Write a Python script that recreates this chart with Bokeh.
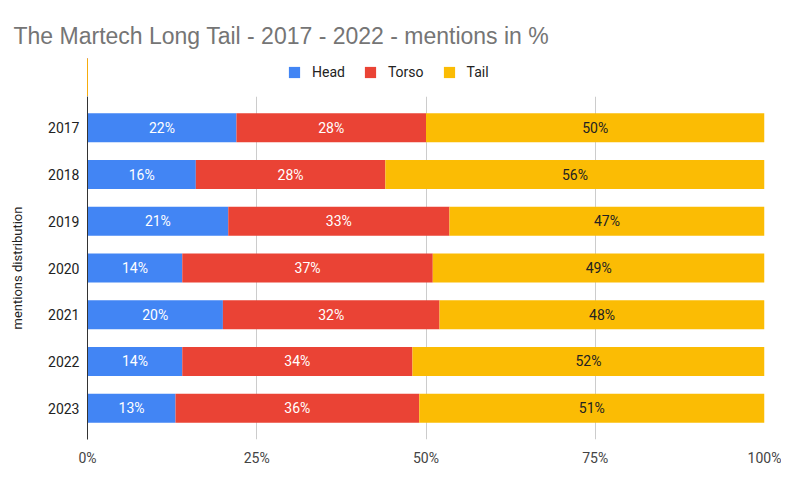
from bokeh.plotting import figure
from bokeh.layouts import column
from bokeh.models import (FactorRange, Range1d, FixedTicker, PrintfTickFormatter,
                          ColumnDataSource, Legend, LegendItem)
from bokeh.core.properties import value
from bokeh.embed import file_html
from bokeh.resources import INLINE

years = ["2017", "2018", "2019", "2020", "2021", "2022", "2023"]
head = [22, 16, 21, 14, 20, 14, 13]
torso = [28, 28, 33, 37, 32, 34, 36]
tail = [50, 56, 47, 49, 48, 52, 51]
series_names = ["Head", "Torso", "Tail"]
colors = ["#4285F4", "#EA4335", "#FBBC04"]
label_colors = ["#FFFFFF", "#FFFFFF", "#222222"]
x_ticks = [0, 25, 50, 75, 100]
title_text = "The Martech Long Tail - 2017 - 2022 - mentions in %"

FONT = "Roboto"
HEAD_H = 88
W = 775

# ---------- data sources (100% stacked) ----------
tot = [h + t + l for h, t, l in zip(head, torso, tail)]
vals = [head, torso, tail]
lefts = [[0.0] * len(years)]
for s in range(3):
    lefts.append([lefts[-1][i] + vals[s][i] * 100.0 / tot[i] for i in range(len(years))])

sources = []
for s in range(3):
    sources.append(ColumnDataSource(dict(
        y=years,
        left=lefts[s],
        right=lefts[s + 1],
        mid=[(a + b) / 2 for a, b in zip(lefts[s], lefts[s + 1])],
        lab=[f"{v}%" for v in vals[s]],
    )))

# ---------- header (title + legend) ----------
# its x range lies beyond the data, so the proxy bars used for the legend
# swatches stay out of view
top = figure(width=W, height=HEAD_H, output_backend="svg", toolbar_location=None,
             x_range=Range1d(1000, 2000), y_range=Range1d(0, 10),
             x_axis_location=None, y_axis_location=None,
             min_border_left=81, min_border_right=17,
             min_border_top=50, min_border_bottom=0)
top.grid.visible = False
top.outline_line_color = None
top.title.text = title_text
top.title.text_font = "Liberation Sans"
top.title.text_font_size = "23px"
top.title.text_font_style = "normal"
top.title.text_color = "#757575"
top.title.align = "left"
top.title.offset = -74
top.title.standoff = 19

leg_items = []
for s in range(3):
    r = top.hbar(y="y", left="left", right="right", height=0.5, source=sources[s],
                 fill_color=colors[s], line_color=None)
    leg_items.append(LegendItem(label=series_names[s], renderers=[r]))
legend = Legend(items=leg_items, orientation="horizontal", location=(200, 16),
                glyph_width=14, glyph_height=14, label_standoff=11, spacing=18,
                padding=0, margin=0, border_line_color=None,
                background_fill_alpha=0,
                label_text_font=FONT, label_text_font_size="14px",
                label_text_color="#222222", label_height=14)
top.add_layout(legend, "center")

# ---------- main chart ----------
p = figure(frame_width=677, frame_height=343, output_backend="svg",
           toolbar_location=None,
           y_range=FactorRange(*reversed(years), range_padding=0.17,
                               range_padding_units="absolute"),
           x_range=Range1d(0, 100),
           min_border_left=81, min_border_right=17, min_border_top=0,
           min_border_bottom=47)
p.title.visible = False
p.outline_line_color = None
p.background_fill_color = "white"

for s in range(3):
    p.hbar(y="y", left="left", right="right", height=0.62, source=sources[s],
           fill_color=colors[s], line_color=None)
    p.text(x="mid", y="y", text="lab", source=sources[s], text_align="center",
           text_baseline="middle", text_color=label_colors[s],
           text_font=value(FONT), text_font_size="14px")

p.xaxis.ticker = FixedTicker(ticks=x_ticks)
p.xaxis.formatter = PrintfTickFormatter(format="%d%%")
p.xaxis.axis_line_color = None
p.xaxis.major_tick_line_color = None
p.xaxis.minor_tick_line_color = None
p.xaxis.major_tick_out = 0
p.xaxis.major_tick_in = 0
p.xaxis.major_label_text_font = FONT
p.xaxis.major_label_text_font_size = "14px"
p.xaxis.major_label_text_color = "#444444"
p.xaxis.major_label_standoff = 10

p.yaxis.axis_line_color = "#333333"
p.yaxis.major_tick_line_color = None
p.yaxis.minor_tick_line_color = None
p.yaxis.major_tick_out = 0
p.yaxis.major_tick_in = 0
p.yaxis.major_label_text_font = FONT
p.yaxis.major_label_text_font_size = "14px"
p.yaxis.major_label_text_color = "#222222"
p.yaxis.major_label_standoff = 8
p.yaxis.axis_label = "mentions distribution"
p.yaxis.axis_label_text_font = FONT
p.yaxis.axis_label_text_font_size = "13px"
p.yaxis.axis_label_text_font_style = "normal"
p.yaxis.axis_label_text_color = "#222222"
p.yaxis.axis_label_standoff = 20

p.xgrid.grid_line_color = "#CCCCCC"
p.ygrid.grid_line_color = None

layout = column(top, p, spacing=0, margin=(8, 0, 0, 6))
open("out.html", "w").write(file_html(layout, INLINE))
